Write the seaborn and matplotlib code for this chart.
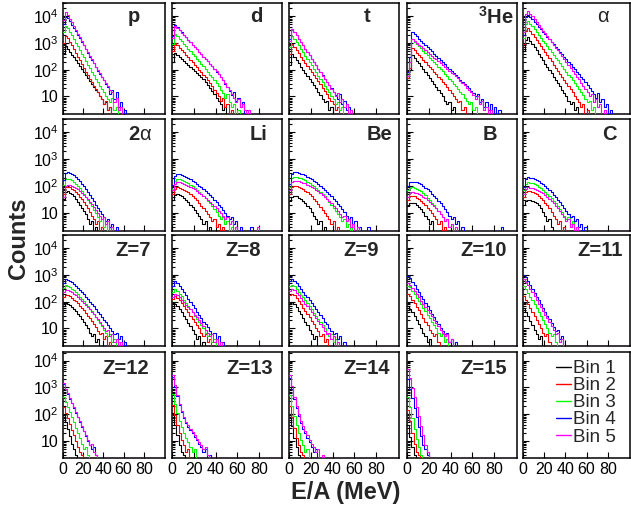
import numpy as np
import pandas as pd
import matplotlib
matplotlib.use("Agg")
import matplotlib.pyplot as plt
import seaborn as sns
from matplotlib.ticker import FixedLocator, LogLocator, NullFormatter
from matplotlib.lines import Line2D

sns.set_theme(style="ticks")
plt.rcParams["font.family"] = ["Liberation Sans", "DejaVu Sans"]
plt.rcParams["mathtext.fontset"] = "custom"
plt.rcParams["mathtext.rm"] = "Liberation Sans"
plt.rcParams["mathtext.it"] = "Liberation Sans:italic"
plt.rcParams["mathtext.bf"] = "Liberation Sans:bold"

# ---------------- data (counts per 2 MeV/A bin, starting at 0) ----------------
bin_names = ["Bin 1", "Bin 2", "Bin 3", "Bin 4", "Bin 5"]
colors = ["#000000", "#ff0000", "#00ff00", "#0000ff", "#ff00ff"]
panel_labels = ["p", "d", "t", r"$^{\mathbf{3}}$He", r"$\mathrm{\alpha}$",
                r"$\mathbf{2}\mathrm{\alpha}$", "Li", "Be", "B", "C",
                "Z=7", "Z=8", "Z=9", "Z=10", "Z=11",
                "Z=12", "Z=13", "Z=14", "Z=15"]
x_ticks = [0, 20, 40, 60, 80]
y_ticks = [10, 100, 1000, 10000]
y_tick_labels = ["10", "$10^2$", "$10^3$", "$10^4$"]
bin_width = 2.0

p_counts = [
    [420, 760, 600, 470, 365, 285, 222, 173, 135, 105, 82, 64, 50, 39, 30, 23, 18, 14, 10, 8, 5, 6, 3, 4, 0, 2],
    [1000, 1800, 1500, 1100, 800, 580, 420, 300, 220, 160, 115, 85, 62, 46, 34, 25, 19, 14, 10, 8, 5, 7, 3, 4, 2],
    [2500, 4200, 3500, 2600, 1900, 1400, 1000, 750, 550, 400, 290, 210, 155, 115, 85, 62, 46, 34, 25, 19, 14, 10, 8, 6, 9, 3, 4, 0, 2],
    [5000, 9500, 8500, 6500, 4800, 3600, 2700, 2000, 1500, 1100, 800, 580, 420, 310, 230, 170, 125, 92, 70, 52, 40, 30, 22, 12, 18, 8, 14, 4, 6, 2, 3],
    [7000, 14000, 11000, 8000, 5800, 4200, 3000, 2200, 1600, 1150, 830, 600, 440, 320, 240, 175, 130, 95, 72, 55, 42, 32, 24, 18, 14, 6, 9, 3, 4, 0, 2],
]
d_counts = [
    [200, 430, 360, 303, 255, 214, 180, 151, 127, 107, 90, 76, 64, 54, 45, 35, 27, 21, 16, 12, 9, 7, 5, 3, 4, 2],
    [500, 1000, 820, 670, 545, 443, 360, 292, 237, 192, 155, 125, 100, 80, 64, 51, 40, 31, 24, 18, 13, 10, 7, 9, 4, 5, 2, 3],
    [900, 2100, 1750, 1420, 1150, 930, 750, 605, 490, 395, 318, 256, 206, 165, 132, 105, 83, 65, 51, 40, 31, 24, 18, 13, 9, 12, 6, 4, 5, 2, 3],
    [1800, 4500, 3800, 3100, 2500, 2000, 1650, 1330, 1080, 870, 710, 575, 468, 380, 308, 250, 203, 164, 133, 106, 85, 67, 52, 40, 30, 22, 16, 11, 14, 7, 9, 4, 6, 2, 3, 0, 2],
    [1500, 4200, 3600, 2950, 2400, 1950, 1600, 1300, 1050, 860, 700, 570, 465, 380, 310, 250, 205, 165, 135, 108, 86, 68, 53, 41, 31, 23, 17, 12, 9, 6, 8, 4, 5, 3, 2, 3, 0, 2],
]
t_counts = [
    [150, 380, 290, 222, 170, 130, 100, 76, 58, 45, 34, 26, 20, 15, 11, 8, 6, 7, 3, 4, 2],
    [400, 900, 690, 530, 405, 310, 238, 182, 140, 107, 82, 63, 48, 37, 28, 21, 16, 12, 9, 7, 5, 3, 4, 2],
    [700, 1800, 1400, 1060, 800, 600, 450, 338, 254, 190, 143, 107, 80, 60, 45, 34, 25, 19, 14, 10, 8, 5, 6, 3, 4, 2],
    [1400, 3300, 2550, 1950, 1460, 1090, 820, 615, 460, 345, 258, 193, 145, 108, 81, 61, 46, 35, 26, 20, 15, 11, 8, 12, 5, 7, 3, 4, 2],
    [1200, 3200, 2500, 1900, 1430, 1070, 800, 600, 450, 340, 255, 190, 143, 107, 80, 60, 45, 34, 26, 19, 14, 10, 13, 6, 8, 4, 5, 2, 3, 0, 2],
]
he3_counts = [
    [56, 100, 350, 275, 216, 170, 134, 105, 82, 64, 50, 39, 30, 23, 18, 13, 10, 7, 5, 6, 3, 4, 2],
    [50, 120, 650, 530, 430, 350, 285, 232, 189, 154, 125, 102, 83, 67, 54, 44, 35, 28, 22, 17, 13, 10, 8, 6, 7, 3, 4, 2],
    [60, 200, 1360, 1120, 920, 755, 620, 510, 420, 345, 283, 232, 190, 156, 128, 105, 86, 70, 57, 46, 37, 30, 24, 19, 15, 12, 9, 7, 5, 6, 3, 4, 2],
    [80, 300, 2500, 2100, 1750, 1450, 1200, 1000, 830, 690, 575, 480, 400, 330, 275, 228, 190, 158, 130, 108, 90, 75, 62, 51, 42, 35, 29, 24, 20, 16, 13, 10, 12, 6, 8, 4, 6, 3, 5, 2, 4, 0, 3, 0, 2],
    [60, 200, 1400, 1200, 1020, 870, 740, 630, 537, 457, 390, 332, 283, 241, 205, 175, 149, 127, 108, 92, 78, 66, 56, 47, 39, 32, 26, 21, 17, 14, 11, 8, 10, 5, 7, 3, 4, 2, 3],
]
alpha_counts = [
    [500, 1300, 1600, 1210, 915, 690, 520, 393, 297, 224, 169, 128, 97, 73, 55, 42, 31, 24, 18, 13, 10, 7, 5, 6, 3, 4, 2],
    [900, 2800, 3600, 2770, 2130, 1640, 1260, 970, 747, 575, 443, 341, 262, 202, 155, 119, 92, 71, 54, 42, 32, 25, 19, 14, 10, 8, 6, 4, 5, 2, 3],
    [1500, 5000, 6800, 5300, 4150, 3250, 2540, 1990, 1560, 1220, 955, 748, 586, 459, 359, 281, 220, 172, 135, 106, 83, 65, 51, 40, 31, 24, 19, 14, 11, 8, 6, 7, 3, 4, 2],
    [2000, 9000, 11500, 9300, 7500, 6050, 4900, 3950, 3200, 2580, 2080, 1680, 1360, 1100, 885, 715, 578, 466, 376, 304, 245, 198, 160, 129, 104, 84, 67, 54, 43, 34, 27, 21, 16, 12, 9, 13, 6, 8, 4, 5, 2, 3],
    [2500, 12000, 16000, 12500, 9800, 7700, 6000, 4700, 3700, 2900, 2270, 1780, 1390, 1090, 850, 665, 520, 405, 316, 246, 192, 150, 117, 91, 71, 55, 43, 33, 25, 19, 14, 10, 12, 6, 8, 4, 5, 2, 3],
]
two_alpha_counts = [
    [35, 60, 64, 58, 50, 42, 34, 27, 21, 16, 12, 9, 6, 4, 5, 2, 3],
    [50, 90, 95, 90, 82, 72, 61, 51, 41, 33, 26, 20, 15, 11, 8, 6, 4, 5, 2, 3, 0, 2],
    [110, 185, 190, 180, 165, 145, 125, 103, 84, 67, 53, 41, 32, 24, 18, 13, 10, 7, 5, 6, 3, 4, 2, 3, 0, 2],
    [170, 320, 330, 310, 290, 260, 225, 190, 155, 125, 100, 80, 62, 48, 37, 28, 21, 16, 12, 9, 7, 5, 6, 3, 4, 2, 3, 0, 2],
    [40, 100, 110, 108, 103, 95, 86, 76, 66, 57, 48, 40, 33, 27, 22, 17, 13, 10, 8, 6, 7, 4, 5, 2, 3, 0, 2],
]
li_counts = [
    [30, 48, 52, 48, 43, 37, 31, 26, 21, 17, 13, 10, 8, 6, 4, 5, 2, 3, 0, 2],
    [50, 80, 92, 88, 82, 75, 67, 59, 51, 43, 36, 30, 24, 19, 15, 12, 9, 7, 5, 6, 3, 4, 2, 3, 0, 2],
    [80, 160, 187, 182, 172, 160, 146, 131, 116, 101, 87, 74, 63, 53, 44, 36, 29, 23, 18, 14, 11, 8, 6, 7, 4, 5, 2, 3],
    [110, 230, 280, 275, 262, 245, 225, 205, 183, 162, 142, 123, 106, 91, 78, 66, 56, 47, 39, 32, 26, 21, 17, 13, 10, 8, 6, 7, 4, 5, 2, 3, 0, 2, 0, 0, 3, 0, 0, 2, 0, 0, 0, 2, 0, 0, 2],
    [70, 120, 140, 138, 132, 125, 116, 106, 96, 86, 76, 67, 58, 50, 43, 37, 31, 26, 22, 18, 15, 12, 10, 8, 6, 7, 4, 5, 2, 3, 0, 2, 0, 0, 2, 0, 0, 0, 0, 3],
]
be_counts = [
    [28, 40, 44, 42, 38, 34, 29, 24, 19, 15, 11, 8, 6, 4, 5, 2, 3],
    [50, 95, 105, 100, 94, 86, 77, 68, 59, 50, 42, 35, 28, 22, 17, 13, 10, 8, 6, 4, 5, 2, 3, 0, 2],
    [90, 200, 225, 220, 210, 197, 182, 166, 149, 132, 116, 100, 86, 73, 61, 51, 42, 34, 27, 21, 16, 12, 9, 7, 5, 6, 3, 4, 2, 3],
    [120, 280, 330, 325, 312, 295, 275, 252, 228, 204, 181, 159, 138, 119, 102, 87, 73, 61, 51, 42, 34, 28, 22, 18, 14, 11, 8, 6, 7, 4, 5, 2, 3, 0, 2, 0, 3, 0, 0, 2, 0, 0, 2, 0, 2],
    [70, 140, 160, 158, 153, 146, 137, 127, 116, 105, 94, 83, 73, 64, 55, 47, 40, 34, 28, 23, 19, 15, 12, 9, 7, 8, 5, 6, 3, 4, 2, 3, 0, 2, 0, 0, 2, 0, 0, 2],
]
b_counts = [
    [18, 24, 25, 23, 20, 17, 14, 11, 8, 6, 4, 5, 2],
    [30, 42, 44, 42, 38, 34, 29, 24, 20, 16, 13, 10, 8, 6, 4, 5, 2, 3],
    [70, 88, 90, 87, 81, 73, 64, 55, 46, 38, 31, 25, 20, 16, 12, 9, 7, 5, 6, 3, 4, 2],
    [100, 140, 148, 146, 140, 130, 117, 103, 89, 76, 64, 53, 44, 36, 29, 23, 18, 14, 11, 8, 6, 7, 4, 5, 2, 3, 0, 0, 0, 0, 0, 0, 0, 0, 0, 0, 0, 0, 0, 0, 0, 0, 0, 3],
    [40, 56, 59, 58, 55, 51, 46, 41, 36, 31, 26, 22, 18, 15, 12, 9, 7, 5, 6, 3, 4, 2, 3, 0, 2],
]
c_counts = [
    [20, 28, 30, 30, 29, 27, 24, 20, 15, 11, 8, 5, 6, 3, 2],
    [40, 60, 67, 65, 61, 56, 50, 44, 37, 31, 25, 20, 15, 11, 8, 6, 4, 5, 2, 3],
    [70, 125, 138, 135, 128, 119, 108, 97, 85, 74, 63, 53, 44, 36, 29, 23, 18, 14, 11, 8, 6, 7, 4, 5, 2],
    [90, 180, 215, 210, 200, 186, 170, 153, 135, 118, 101, 86, 72, 60, 49, 40, 32, 26, 20, 16, 12, 9, 7, 8, 5, 6, 3, 4, 2, 3, 0, 2],
    [50, 80, 90, 89, 86, 81, 75, 68, 61, 54, 47, 40, 34, 28, 23, 19, 15, 12, 9, 7, 5, 6, 3, 4, 2, 3],
]
z7_counts = [
    [70, 89, 85, 75, 64, 54, 45, 36, 29, 22, 17, 13, 10, 7, 5, 6, 3, 4, 2],
    [150, 185, 178, 160, 140, 120, 102, 86, 71, 58, 47, 38, 30, 24, 19, 14, 11, 8, 6, 7, 4, 5, 2, 3],
    [320, 410, 390, 350, 305, 262, 222, 186, 155, 128, 105, 85, 69, 55, 44, 35, 27, 21, 16, 12, 9, 7, 5, 6, 3, 4, 2, 3],
    [500, 680, 650, 590, 520, 450, 385, 325, 272, 226, 187, 153, 125, 101, 82, 66, 53, 42, 34, 27, 21, 17, 13, 10, 8, 6, 7, 4, 5, 2, 3, 0, 2],
    [220, 280, 270, 248, 222, 196, 171, 148, 127, 108, 91, 76, 63, 52, 42, 34, 27, 22, 17, 13, 10, 8, 9, 5, 6, 3, 4, 2, 3, 0, 2],
]
z8_counts = [
    [60, 80, 68, 52, 40, 30, 22, 16, 12, 9, 6, 4, 5, 2, 3],
    [130, 162, 140, 112, 88, 68, 52, 40, 30, 23, 17, 13, 10, 7, 5, 6, 3, 4, 2],
    [220, 285, 250, 200, 156, 120, 92, 70, 53, 40, 30, 23, 17, 13, 10, 7, 5, 6, 3, 4, 2],
    [400, 580, 500, 390, 300, 228, 173, 130, 98, 74, 56, 42, 32, 24, 18, 14, 11, 8, 6, 7, 4, 5, 2, 3, 0, 2, 0, 2],
    [150, 186, 170, 143, 118, 96, 78, 63, 51, 41, 32, 26, 20, 16, 12, 9, 7, 5, 6, 3, 4, 2, 3],
]
z9_counts = [
    [80, 100, 82, 62, 46, 34, 25, 18, 13, 9, 6, 4, 5, 2],
    [170, 200, 170, 133, 103, 79, 60, 45, 34, 26, 19, 14, 10, 8, 5, 6, 3, 4, 2],
    [380, 430, 370, 295, 233, 183, 143, 111, 86, 66, 51, 39, 30, 23, 17, 13, 10, 7, 5, 6, 3, 4, 2],
    [600, 700, 600, 480, 380, 300, 236, 185, 145, 113, 88, 68, 53, 41, 32, 24, 18, 14, 10, 8, 6, 7, 4, 5, 2, 3, 0, 2, 0, 0, 2],
    [260, 300, 265, 215, 172, 137, 108, 85, 67, 52, 41, 32, 25, 19, 15, 11, 8, 6, 7, 4, 5, 2, 3],
]
z10_counts = [
    [67, 55, 40, 29, 21, 15, 10, 7, 5, 3, 4, 2],
    [190, 160, 118, 87, 64, 47, 34, 25, 18, 13, 9, 7, 5, 6, 3, 2],
    [400, 340, 255, 190, 142, 106, 79, 59, 44, 33, 24, 18, 13, 10, 7, 5, 6, 3, 4, 2],
    [900, 750, 560, 415, 305, 225, 166, 122, 90, 66, 49, 36, 26, 19, 14, 10, 8, 6, 7, 3, 4, 2, 3, 0, 2],
    [480, 420, 320, 245, 187, 143, 109, 83, 63, 48, 37, 28, 21, 16, 12, 9, 7, 5, 6, 3, 4, 2],
]
z11_counts = [
    [59, 42, 28, 19, 13, 9, 6, 4, 5, 2],
    [160, 120, 85, 60, 42, 30, 21, 15, 10, 7, 5, 6, 3, 2],
    [380, 300, 215, 155, 111, 80, 57, 41, 29, 21, 15, 10, 7, 5, 6, 3, 2],
    [1000, 800, 580, 415, 300, 215, 155, 112, 80, 58, 42, 30, 22, 16, 11, 8, 9, 4, 5, 2],
    [680, 560, 410, 300, 220, 160, 117, 85, 62, 45, 33, 24, 17, 12, 9, 6, 7, 3, 4, 2],
]
z12_counts = [
    [93, 50, 27, 15, 8, 5, 3, 2],
    [190, 115, 70, 43, 26, 16, 10, 6, 4, 3, 2],
    [450, 290, 185, 118, 76, 49, 31, 20, 13, 8, 5, 6, 3, 2],
    [1300, 850, 570, 380, 255, 170, 115, 77, 51, 34, 23, 15, 10, 7, 5, 6, 3, 2, 0, 0, 0, 0, 0, 2],
    [1400, 900, 600, 400, 268, 180, 120, 80, 54, 36, 24, 16, 11, 7, 8, 4, 3, 2],
]
z13_counts = [
    [107, 40, 16, 7, 4, 3, 2],
    [220, 90, 40, 20, 11, 7, 4, 5, 2],
    [590, 250, 115, 57, 32, 20, 13, 9, 6, 4, 5, 2],
    [2500, 1050, 460, 220, 118, 70, 47, 34, 25, 19, 14, 11, 8, 6, 4, 5, 2, 3],
    [2900, 1200, 520, 250, 130, 78, 52, 38, 28, 21, 16, 12, 9, 7, 5, 6, 3, 2],
]
z14_counts = [
    [95, 35, 13, 6, 3, 2],
    [200, 75, 30, 13, 7, 4, 3, 2],
    [500, 200, 85, 40, 20, 11, 7, 4, 5, 2],
    [2300, 900, 370, 165, 82, 46, 29, 19, 13, 9, 6, 4, 5, 2],
    [2800, 1100, 450, 200, 100, 57, 36, 24, 16, 11, 8, 6, 4, 5, 2, 3],
]
z15_counts = [
    [40, 14, 6, 3, 2],
    [148, 55, 20, 8, 4, 3, 2],
    [450, 180, 72, 29, 12, 6, 3, 2],
    [2100, 900, 400, 175, 78, 34, 15, 7, 5, 3, 2, 0, 0, 2],
    [5000, 2200, 950, 420, 185, 82, 36, 16, 7, 4, 2],
]

panels = [p_counts, d_counts, t_counts, he3_counts, alpha_counts,
          two_alpha_counts, li_counts, be_counts, b_counts, c_counts,
          z7_counts, z8_counts, z9_counts, z10_counts, z11_counts,
          z12_counts, z13_counts, z14_counts, z15_counts]

# ---------------- layout (figure pixels) ----------------
W, H = 631, 509
col_px = [(63, 165), (172, 282), (289, 399), (407, 517), (523, 630)]
row_px = [(3, 114), (119, 231), (235, 346), (352, 458)]
row_ylim = [(2.2, 3.1e4), (2.2, 3.1e4), (2.2, 3.1e4), (2.3, 2.1e4)]
label_pos = [(128, 17), (250, 17), (364, 17), (478, 17), (597, 17),
             (128, 135), (250, 135), (367, 135), (483, 135), (602, 135),
             (115, 250), (225, 250), (343, 250), (460, 250), (577, 250),
             (102, 368), (226, 368), (343, 368), (460, 368)]

fig = plt.figure(figsize=(W / 100, H / 100), dpi=100)
fig.patch.set_facecolor("white")

edges = np.arange(0, 100 + bin_width, bin_width)
nbins = len(edges) - 1


def panel_frame(counts, floor):
    parts = []
    for name, c in zip(bin_names, counts):
        vals = np.zeros(nbins)
        vals[:len(c)] = c
        vals = np.maximum(vals, floor)
        y = np.append(vals, vals[-1])
        parts.append(pd.DataFrame({"E": edges, "Counts": y, "Bin": name}))
    return pd.concat(parts, ignore_index=True)


for r in range(4):
    for c in range(5):
        idx = r * 5 + c
        x0, x1 = col_px[c]
        y0, y1 = row_px[r]
        ax = fig.add_axes([x0 / W, 1 - y1 / H, (x1 - x0) / W, (y1 - y0) / H])
        ax.set_facecolor("white")
        ax.set_yscale("log")
        ymin, ymax = row_ylim[r]
        if idx < len(panels):
            df = panel_frame(panels[idx], ymin * 1.04)
            sns.lineplot(data=df, x="E", y="Counts", hue="Bin", hue_order=bin_names,
                         palette=colors, drawstyle="steps-post", estimator=None,
                         legend=False, linewidth=0.8, ax=ax, zorder=3)
        ax.set_xlim(0, 101)
        ax.set_ylim(ymin, ymax)
        ax.set_xlabel("")
        ax.set_ylabel("")
        ax.xaxis.set_major_locator(FixedLocator(x_ticks))
        ax.yaxis.set_major_locator(FixedLocator(y_ticks))
        ax.yaxis.set_minor_locator(LogLocator(base=10, subs=np.arange(2, 10), numticks=20))
        ax.yaxis.set_minor_formatter(NullFormatter())
        if c == 0:
            ax.set_yticklabels(y_tick_labels)
        else:
            ax.set_yticklabels([])
        if r != 3:
            ax.set_xticklabels([])
        else:
            ax.set_xticklabels([str(v) for v in x_ticks])
        ax.tick_params(which="both", direction="in", top=False, right=False,
                       colors="black", labelsize=11.5, width=0.8)
        ax.tick_params(which="major", length=4, pad=3)
        ax.tick_params(which="minor", length=2)
        for s in ax.spines.values():
            s.set_color("black")
            s.set_linewidth(1.1)
        if idx < len(panel_labels):
            lx, ly = label_pos[idx]
            fig.text(lx / W, 1 - ly / H, panel_labels[idx], ha="left", va="center",
                     fontsize=14.5, fontweight="bold")
        else:
            handles = [Line2D([], [], color=col, lw=1.0) for col in colors]
            ax.legend(handles, bin_names, loc="upper left", frameon=False,
                      bbox_to_anchor=(556 / W, 1 - 360 / H), bbox_transform=fig.transFigure,
                      borderaxespad=0, borderpad=0, handlelength=0.8, handletextpad=0.1,
                      labelspacing=0.0, fontsize=13.5)

fig.text(18 / W, 1 - 238 / H, "Counts", rotation=90, ha="center", va="center",
         fontsize=17, fontweight="bold")
fig.text(346 / W, 1 - 493 / H, "E/A (MeV)", ha="center", va="center",
         fontsize=17, fontweight="bold")

fig.savefig("out.png", dpi=100, facecolor="white")
